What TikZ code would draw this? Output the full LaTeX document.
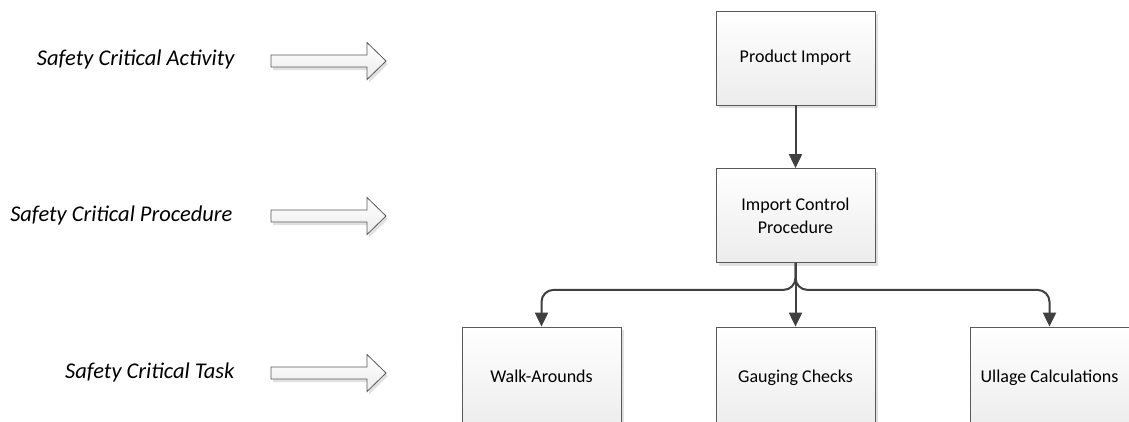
\documentclass[tikz,border=0pt]{standalone}
\usepackage{fontspec}
\setmainfont{Carlito}
\usetikzlibrary{arrows.meta,shadows}
\definecolor{edge}{HTML}{5A5A5A}
\definecolor{link}{HTML}{404040}
\definecolor{shade}{HTML}{ECECEC}
\begin{document}
\begin{tikzpicture}[x=1pt,y=-1pt,
  box/.style={draw=edge, line width=0.8pt, shading=axis, top color=white, bottom color=shade,
    minimum width=159pt, minimum height=94pt, align=center, inner sep=0pt,
    font=\fontsize{18}{23}\selectfont,
    drop shadow={shadow xshift=3pt, shadow yshift=-3pt, fill=black!12, opacity=1}},
  lowbox/.style={box, minimum height=104pt},
  level/.style={anchor=east, font=\fontsize{22.5}{27}\selectfont\itshape},
  link/.style={draw=link, line width=2pt, -{Triangle[length=14pt,width=13pt]}, rounded corners=12pt},
  fat/.style={draw=edge, line width=0.8pt, shading=axis, top color=white, bottom color=shade,
    drop shadow={shadow xshift=2pt, shadow yshift=-3pt, fill=black!12, opacity=1}}
]
\clip (0,0) rectangle (1129,421);
\fill[white] (0,0) rectangle (1129,421);

% hierarchy levels
\node[level] (lact) at (238,59) {Safety Critical Activity};
\node[level] (lproc) at (236,215) {Safety Critical Procedure};
\node[level] (ltask) at (238,372) {Safety Critical Task};

% block arrows pointing at each level
\foreach \y in {61,216,373}{
  \path[fat] (271,\y-6) -- (367,\y-6) -- (367,\y-18.5) -- (386,\y) -- (367,\y+18.5)
    -- (367,\y+6) -- (271,\y+6) -- cycle;
}

% boxes
\node[box] (pi) at (795.5,58) {Product Import};
\node[box] (icp) at (795.5,215.5) {Import Control\\Procedure};
\node[lowbox] (wa) at (541.5,379) {\raisebox{5pt}{Walk-Arounds}};
\node[lowbox] (gc) at (795.5,379) {\raisebox{5pt}{Gauging Checks}};
\node[lowbox] (ul) at (1049.5,379) {\raisebox{5pt}{Ullage Calculations}};

% connectors
\draw[link] (pi.south) -- (icp.north);
\draw[link] (icp.south) -- (gc.north);
\draw[link] (icp.south) -- ++(0,27) -| (wa.north);
\draw[link] (icp.south) -- ++(0,27) -| (ul.north);
\end{tikzpicture}
\end{document}
